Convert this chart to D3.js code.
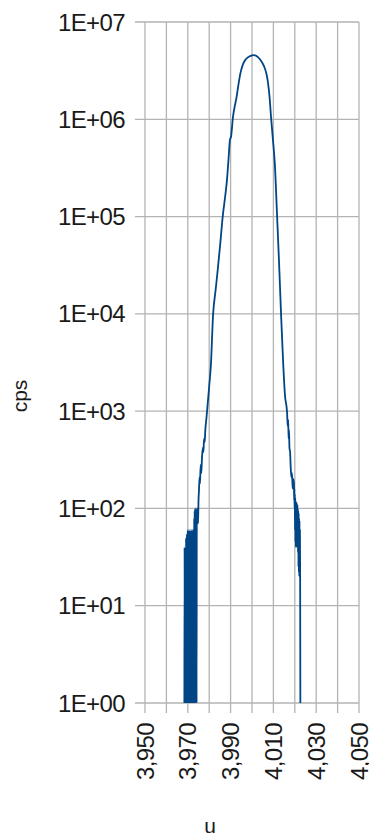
<!DOCTYPE html>
<html><head><meta charset="utf-8">
<script src="https://cdn.jsdelivr.net/npm/d3@7/dist/d3.min.js"></script>
<style>
html,body{margin:0;padding:0;background:#fff;}
svg{display:block;font-family:"Liberation Sans",Arial,sans-serif;}
</style></head>
<body>
<svg id="chart" width="369" height="839"></svg>
<script>
// ---- data ----
const uValues = [
 3.9684,3.9685,3.9686,3.9687,3.9688,3.9689,3.9690,3.9691,3.9692,3.9693,
 3.9694,3.9695,3.9696,3.9697,3.9698,3.9699,3.9700,3.9701,3.9702,3.9703,
 3.9704,3.9705,3.9706,3.9707,3.9708,3.9709,3.9710,3.9711,3.9712,3.9713,
 3.9714,3.9715,3.9716,3.9717,3.9718,3.9719,3.9720,3.9721,3.9722,3.9723,
 3.9724,3.9725,3.9726,3.9727,3.9728,3.9729,3.9730,3.9731,3.9732,3.9733,
 3.9734,3.9735,3.9736,3.9737,3.9738,3.9739,3.9740,3.9741,3.9742,
 3.9744,3.9746,3.9748,3.9750,3.9752,3.9755,3.9757,3.9760,3.9763,3.9766,
 3.9770,3.9773,3.9776,3.9779,3.9782,3.9786,3.9790,
 3.9800,3.9808,3.9818,3.9830,3.9841,3.9852,3.9864,3.9874,3.9883,3.9890,
 3.9897,3.9902,3.9911,3.9928,3.9937,3.9946,3.9958,3.9972,3.9991,4.0009,
 4.0028,4.0042,4.0056,4.0068,4.0075,4.0082,
 4.0089,4.0098,4.0107,4.0117,4.0126,4.0136,4.0145,4.0154,4.0164,
 4.0167,4.0169,4.0171,4.0173,4.0175,4.0178,4.0181,4.0184,4.0187,4.0190,4.0193,
 4.0196,4.0197,4.0198,4.0199,4.0200,4.0201,4.0202,4.0203,4.0204,4.0205,
 4.0206,4.0207,4.0208,4.0209,4.0210,4.0211,4.0212,4.0213,4.0214,4.0215,
 4.0216,4.0217,4.0218,4.0219,4.0220,4.0221,4.0222,4.0223,4.0224,4.0225,4.0226
];
const cpsValues = [
 1,40,1,1,20,1,35,1,50,1,
 30,1,55,1,45,1,60,1,40,1,
 60,1,50,1,60,1,45,1,60,1,
 55,1,60,1,40,1,60,1,58,1,
 60,1,50,1,62,1,80,1,95,1,
 100,1,90,1,100,1,85,1,100,
 75,95,70,120,150,210,180,280,230,320,
 420,380,520,480,650,800,1000,
 1800,3000,9700,17600,30000,53700,104000,157000,237000,380000,
 613000,660000,1050000,1700000,2300000,2980000,3690000,4160000,4460000,4570000,
 4360000,4000000,3520000,2900000,2350000,1700000,
 1050000,610000,338000,104000,35600,9700,3350,1460,960,
 700,820,520,640,420,380,260,210,230,160,200,
 180,120,160,100,140,60,130,45,120,40,
 110,50,115,40,100,45,110,40,100,35,
 95,25,90,22,80,20,75,20,60,20,1
];
const xTickValues = [3.95,3.96,3.97,3.98,3.99,4.00,4.01,4.02,4.03,4.04,4.05];
const xLabelValues = [3.95,3.97,3.99,4.01,4.03,4.05];
const xTickLabels = ["3,950","3,970","3,990","4,010","4,030","4,050"];
const yTickValues = [1,1e1,1e2,1e3,1e4,1e5,1e6,1e7];
const yTickLabels = ["1E+00","1E+01","1E+02","1E+03","1E+04","1E+05","1E+06","1E+07"];
const xTitle = "u";
const yTitle = "cps";

// ---- layout ----
const L = 145, R = 359, T = 22, B = 703;
const gridColor = "#b3b3b3";
const lineColor = "#004586";
const textColor = "#1a1a1a";

const svg = d3.select("#chart");
const x = d3.scaleLinear().domain([3.95, 4.05]).range([L, R]);
const y = d3.scaleLog().domain([1, 1e7]).range([B, T]);

// vertical gridlines
svg.append("g").selectAll("line").data(xTickValues).join("line")
  .attr("x1", d => x(d)).attr("x2", d => x(d))
  .attr("y1", T).attr("y2", B + 10)
  .attr("stroke", gridColor).attr("stroke-width", 1.3);
// horizontal gridlines
svg.append("g").selectAll("line").data(yTickValues).join("line")
  .attr("x1", L - 10).attr("x2", R)
  .attr("y1", d => y(d)).attr("y2", d => y(d))
  .attr("stroke", gridColor).attr("stroke-width", 1.3);

// y tick labels
svg.append("g").selectAll("text").data(yTickValues).join("text")
  .attr("x", 125).attr("y", d => y(d)).attr("dy", "0.36em")
  .attr("text-anchor", "end").attr("font-size", 24).attr("fill", textColor)
  .attr("letter-spacing", "-0.6")
  .text((d, i) => yTickLabels[i]);

// x tick labels
svg.append("g").selectAll("text").data(xLabelValues).join("text")
  .attr("transform", d => `translate(${x(d)},${B + 20}) rotate(-90)`)
  .attr("dy", "0.36em")
  .attr("text-anchor", "end").attr("font-size", 24).attr("fill", textColor)
  .attr("letter-spacing", "-0.6")
  .text((d, i) => xTickLabels[i]);

// axis titles
svg.append("text").attr("transform", "translate(27,396) rotate(-90)")
  .attr("text-anchor", "middle").attr("font-size", 21).attr("fill", textColor)
  .text(yTitle);
svg.append("text").attr("x", 210).attr("y", 833)
  .attr("text-anchor", "middle").attr("font-size", 21).attr("fill", textColor)
  .text(xTitle);

// data line
svg.append("clipPath").attr("id", "clip").append("rect")
  .attr("x", L).attr("y", T).attr("width", R - L).attr("height", B - T);
const pts = uValues.map((u, i) => [u, cpsValues[i]]);
const line = d3.line().x(d => x(d[0])).y(d => y(d[1])).curve(d3.curveMonotoneX);
svg.append("path").datum(pts).attr("d", line)
  .attr("clip-path", "url(#clip)")
  .attr("fill", "none").attr("stroke", lineColor).attr("stroke-width", 1.8)
  .attr("stroke-linejoin", "round");
</script>
</body></html>
